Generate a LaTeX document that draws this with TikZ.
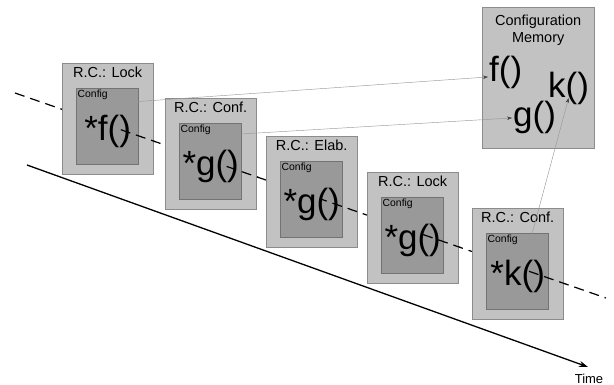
\documentclass[tikz,border=0pt]{standalone}
\usepackage{fontspec}
\setmainfont{Liberation Sans}
\usetikzlibrary{calc,positioning,arrows.meta}

\begin{document}
\begin{tikzpicture}[x=1pt, y=-1pt,
    rcbox/.style={rectangle, draw=black!45, fill=black!24, minimum width=91pt, minimum height=111pt, inner sep=0pt, anchor=north west},
    membox/.style={rcbox, minimum width=112pt, minimum height=141pt},
    cfgbox/.style={rectangle, draw=black!55, fill=black!40, minimum width=62pt, minimum height=76pt, inner sep=0pt, anchor=north west},
    rclabel/.style={font=\fontsize{14.5}{17}\selectfont, inner sep=0pt},
    cfglabel/.style={font=\fontsize{10.4}{12}\selectfont, inner sep=1.5pt, anchor=north west},
    func/.style={font=\fontsize{35}{40}\selectfont, inner sep=0pt, anchor=base},
    memfunc/.style={font=\fontsize{35}{40}\selectfont, inner sep=1pt, anchor=base west},
    fetch/.style={draw=black!40, line width=0.45pt, -{Stealth[length=5pt, width=3.5pt, color=black!75]}},
    timedash/.style={line width=1.2pt, dash pattern=on 10pt off 6pt},
    timeline/.style={line width=1.3pt, -{Stealth[length=9pt, width=6pt]}}
]
    \useasboundingbox (0,0) rectangle (614,385);

    % time axes
    \coordinate (d0) at (15,93);
    \coordinate (d1) at (606,298);
    \coordinate (t0) at (27,165);
    \coordinate (t1) at (588,367);
    \draw[timedash] (d0) -- (d1);
    \draw[timeline] (t0) -- (t1);
    \node[rclabel, font=\fontsize{13}{15}\selectfont, anchor=north] (time) at ([xshift=1pt, yshift=-6.5pt]t1) {Time};

    % reconfiguration steps
    \node[rcbox] (rc1) at (62,63) {};
    \node[cfgbox] (in1) at ([shift={(14,25)}]rc1.north west) {};
    \node[rclabel] (lab1) at ([yshift=-9pt]rc1.north) {R.C.: Lock};
    \node[cfglabel] (cfg1) at (in1.north west) {Config};
    \node[func] (fn1) at ([yshift=-78pt]rc1.north) {*f()};

    \node[rcbox] (rc2) at (165,98) {};
    \node[cfgbox] (in2) at ([shift={(14,25)}]rc2.north west) {};
    \node[rclabel] (lab2) at ([yshift=-9pt]rc2.north) {R.C.: Conf.};
    \node[cfglabel] (cfg2) at (in2.north west) {Config};
    \node[func] (fn2) at ([yshift=-78pt]rc2.north) {*g()};

    \node[rcbox] (rc3) at (266,136) {};
    \node[cfgbox] (in3) at ([shift={(14,25)}]rc3.north west) {};
    \node[rclabel] (lab3) at ([yshift=-9pt]rc3.north) {R.C.: Elab.};
    \node[cfglabel] (cfg3) at (in3.north west) {Config};
    \node[func] (fn3) at ([yshift=-78pt]rc3.north) {*g()};

    \node[rcbox] (rc4) at (367,172) {};
    \node[cfgbox] (in4) at ([shift={(14,25)}]rc4.north west) {};
    \node[rclabel] (lab4) at ([yshift=-9pt]rc4.north) {R.C.: Lock};
    \node[cfglabel] (cfg4) at (in4.north west) {Config};
    \node[func] (fn4) at ([yshift=-78pt]rc4.north) {*g()};

    \node[rcbox] (rc5) at (472,208) {};
    \node[cfgbox] (in5) at ([shift={(14,25)}]rc5.north west) {};
    \node[rclabel] (lab5) at ([yshift=-9pt]rc5.north) {R.C.: Conf.};
    \node[cfglabel] (cfg5) at (in5.north west) {Config};
    \node[func] (fn5) at ([yshift=-78pt]rc5.north) {*k()};

    % dashed axis passes over the right half of each step
    \begin{scope}
        \clip ([xshift=56pt]rc1.north west) rectangle ([xshift=2pt]rc1.south east)
              ([xshift=56pt]rc2.north west) rectangle ([xshift=2pt]rc2.south east)
              ([xshift=56pt]rc3.north west) rectangle ([xshift=2pt]rc3.south east)
              ([xshift=56pt]rc4.north west) rectangle ([xshift=2pt]rc4.south east)
              ([xshift=56pt]rc5.north west) rectangle ([xshift=2pt]rc5.south east);
        \draw[timedash] (d0) -- (d1);
    \end{scope}

    % configuration memory
    \node[membox] (mem) at (482,7) {};
    \node[rclabel, anchor=north, align=center] (memtitle) at ([yshift=-8pt]mem.north) {Configuration\\Memory};
    \node[memfunc] (mf) at (488,82) {f()};
    \node[memfunc] (mg) at (512,127) {g()};
    \node[memfunc] (mk) at (547,98) {k()};

    % fetches from memory
    \coordinate (src1) at ([shift={(41,15)}]in1.north west);
    \coordinate (src2) at ([shift={(45,12)}]in2.north west);
    \coordinate (src5) at ([shift={(42,16)}]in5.north west);
    \draw[fetch] (src1) -- ([yshift=-4pt]mf.west);
    \draw[fetch] (src2) -- (mg.west);
    \draw[fetch] (src5) -- (mk.base);
\end{tikzpicture}
\end{document}
